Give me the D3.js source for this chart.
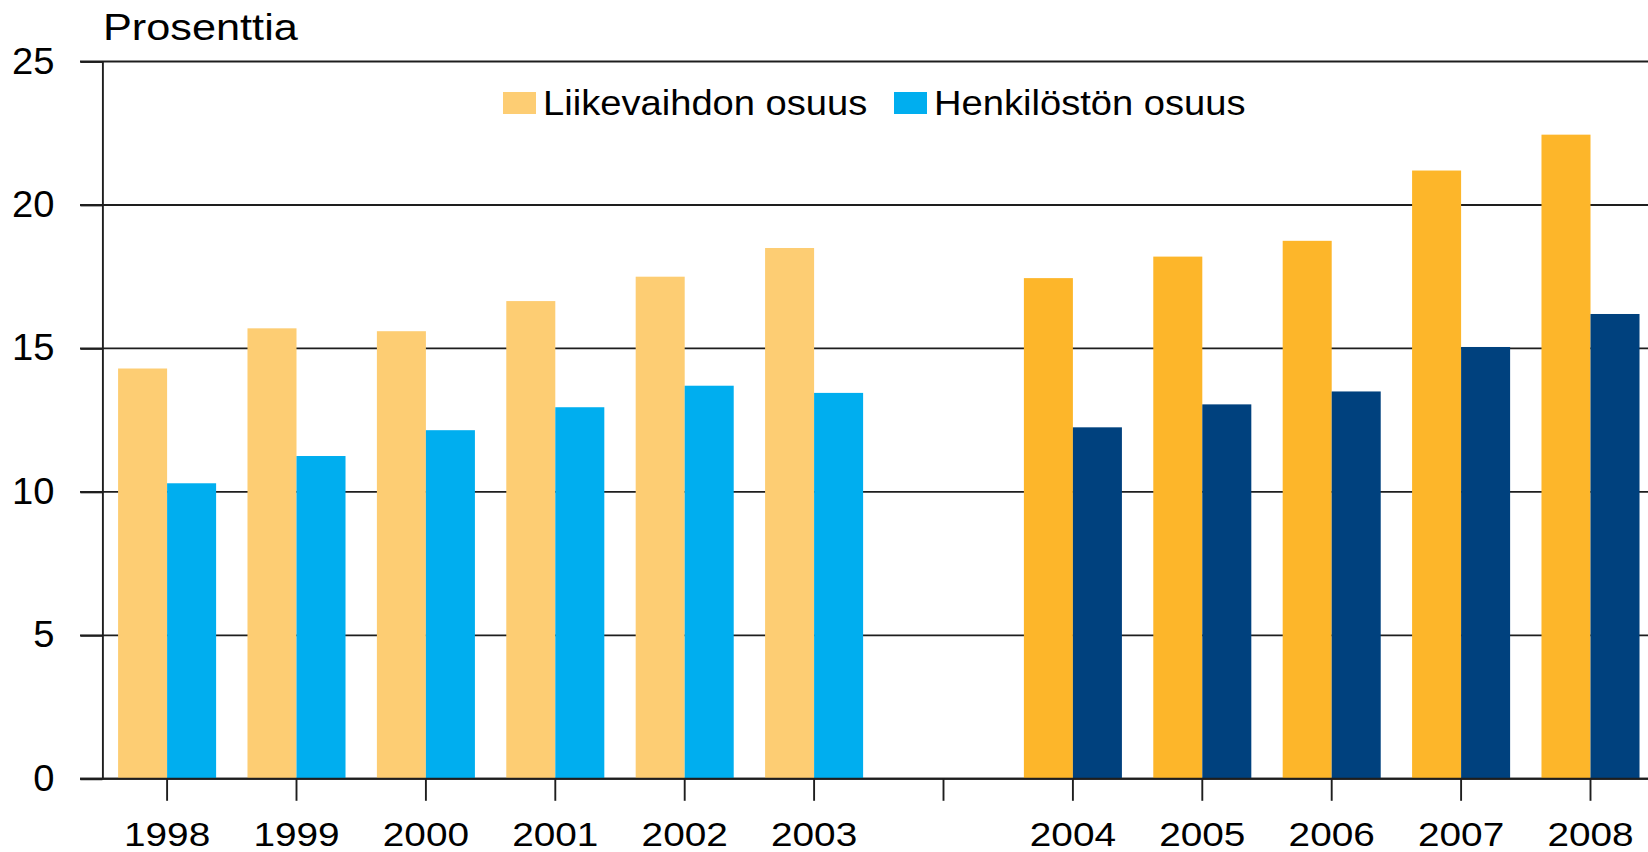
<!DOCTYPE html>
<html>
<head>
<meta charset="utf-8">
<script src="https://cdn.jsdelivr.net/npm/d3@7"></script>
<style>
  html, body { margin: 0; padding: 0; background: #fff; }
  svg { display: block; font-family: "Liberation Sans", Arial, sans-serif; }
</style>
</head>
<body>
<svg id="chart" width="1648" height="852"></svg>
<script>
// categories (the blank one is the gap between the two periods)
const categories = ["1998", "1999", "2000", "2001", "2002", "2003", "gap", "2004", "2005", "2006", "2007", "2008"];
const years = ["1998", "1999", "2000", "2001", "2002", "2003", "2004", "2005", "2006", "2007", "2008"];
// share of turnover, %
const turnover = [14.3, 15.7, 15.6, 16.65, 17.5, 18.5, 17.45, 18.2, 18.75, 21.2, 22.45];
// share of personnel, %
const staff = [10.3, 11.25, 12.15, 12.95, 13.7, 13.45, 12.25, 13.05, 13.5, 15.05, 16.2];
const seriesNames = ["Liikevaihdon osuus", "Henkilöstön osuus"];
const yTicks = [0, 5, 10, 15, 20, 25];
const newPeriodStart = "2004";

const svg = d3.select("#chart");
const W = 1648;
const lineCol = "#1e1e1e";
const lineW = 1.9;

// light colours for the old series, darker for 2004 onwards
const colLight = ["#fdcd73", "#00aeef"];
const colDark = ["#fdb62a", "#00417e"];

const x0 = d3.scaleBand().domain(categories).range([102.4, 1655.2]).padding(0);
const x1 = d3.scaleBand().domain(["t", "s"]).range([0, x0.bandwidth()]).paddingInner(0).paddingOuter(0.32);
const y = d3.scaleLinear().domain([0, 25]).range([778.8, 61.5]);

const rows = years.map((yr, i) => ({ year: yr, t: turnover[i], s: staff[i], dark: +yr >= +newPeriodStart }));

// gridlines (go under the bars)
svg.append("g")
  .selectAll("line")
  .data(yTicks)
  .join("line")
    .attr("x1", 80)
    .attr("x2", W)
    .attr("y1", d => y(d))
    .attr("y2", d => y(d))
    .attr("stroke", lineCol)
    .attr("stroke-width", lineW);

// bars
const groups = svg.append("g")
  .selectAll("g")
  .data(rows)
  .join("g")
    .attr("transform", d => `translate(${x0(d.year)},0)`);

groups.selectAll("rect")
  .data(d => [
    { key: "t", v: d.t, c: d.dark ? colDark[0] : colLight[0] },
    { key: "s", v: d.s, c: d.dark ? colDark[1] : colLight[1] }
  ])
  .join("rect")
    .attr("x", d => x1(d.key))
    .attr("width", x1.bandwidth())
    .attr("y", d => y(d.v))
    .attr("height", d => y(0) - y(d.v))
    .attr("fill", d => d.c);

// y axis
const yAxis = svg.append("g")
  .attr("transform", "translate(102.4,0)")
  .call(d3.axisLeft(y).tickValues(yTicks).tickSize(22).tickPadding(26).tickSizeOuter(0));
yAxis.select(".domain").attr("stroke", lineCol).attr("stroke-width", lineW);
yAxis.selectAll(".tick line").attr("stroke", lineCol).attr("stroke-width", lineW);
yAxis.selectAll("text")
  .attr("font-size", 36)
  .attr("fill", "#000")
  .attr("x", -48 / 1.06)
  .attr("transform", "scale(1.06,1)");

// x axis
const xAxis = svg.append("g")
  .attr("transform", `translate(0,${y(0)})`)
  .call(d3.axisBottom(x0).tickSize(22).tickPadding(21.5).tickSizeOuter(0)
    .tickFormat(d => d === "gap" ? "" : d));
xAxis.select(".domain").attr("d", `M80,0H${W}`).attr("stroke", lineCol).attr("stroke-width", lineW);
xAxis.selectAll(".tick line").attr("stroke", lineCol).attr("stroke-width", lineW);
xAxis.selectAll("text")
  .attr("font-size", 34)
  .attr("fill", "#000")
  .attr("transform", "scale(1.14,1)");

// unit title
svg.append("text")
  .attr("x", 103 / 1.17)
  .attr("y", 40)
  .attr("font-size", 37)
  .attr("transform", "scale(1.17,1)")
  .text("Prosenttia");

// legend
const legendX = [503, 894];
const legend = svg.append("g")
  .selectAll("g")
  .data(seriesNames)
  .join("g")
    .attr("transform", (d, i) => `translate(${legendX[i]},0)`);
legend.append("rect")
  .attr("x", 0)
  .attr("y", 92)
  .attr("width", 33)
  .attr("height", 22)
  .attr("fill", (d, i) => colLight[i]);
legend.append("text")
  .attr("x", 40 / 1.09)
  .attr("y", 115)
  .attr("font-size", 35)
  .attr("transform", "scale(1.09,1)")
  .text(d => d);
</script>
</body>
</html>
